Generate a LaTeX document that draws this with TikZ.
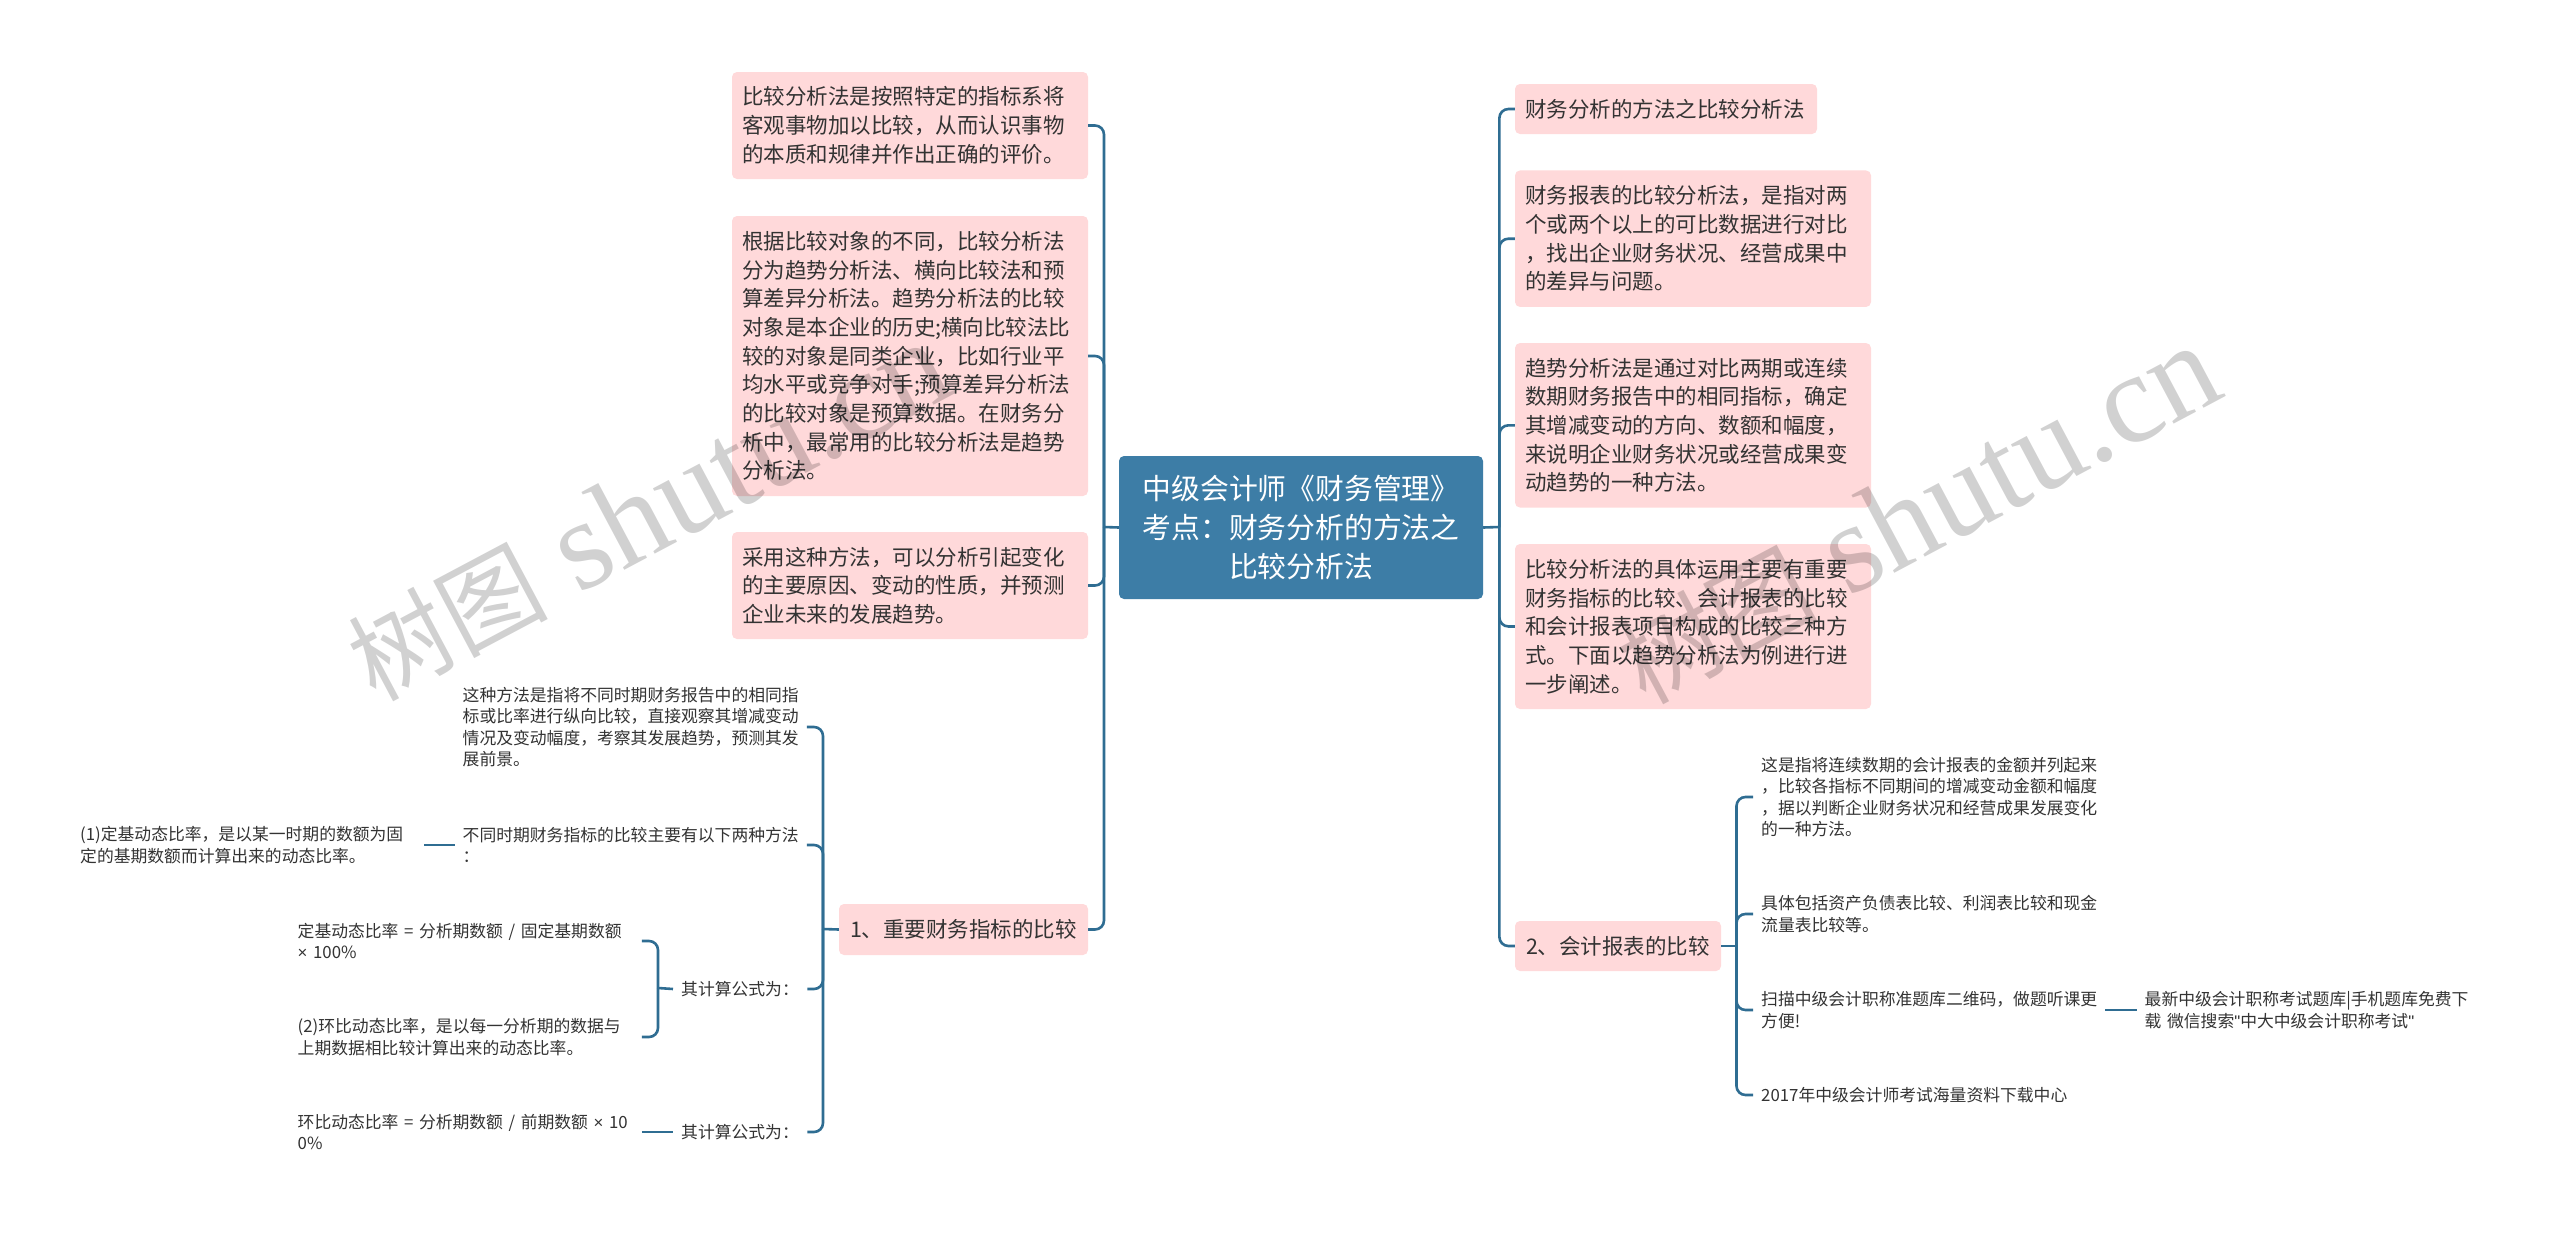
\documentclass[tikz,border=0pt]{standalone}
\usepackage{fontspec}
\setmainfont{Noto Sans CJK SC}
\newfontfamily\wmserif{Liberation Serif}
\newfontfamily\latinsans{Liberation Sans}
\definecolor{pinkfill}{HTML}{FFD9DA}
\definecolor{rootfill}{HTML}{3D7DA6}
\definecolor{linecol}{HTML}{2F6D92}
\definecolor{txt}{HTML}{333333}
\newcommand{\tm}{{\latinsans ×}}
\newcommand{\qt}{{\latinsans "}}
\tikzset{
  pinkbox/.style={fill=pinkfill,rounded corners=5pt,inner xsep=10pt,inner ysep=0pt,align=left,text=txt,font=\fontsize{21.5}{28.7}\selectfont},
  rootbox/.style={fill=rootfill,rounded corners=5pt,inner sep=0pt,align=center,text=white,font=\fontsize{28.8}{38.8}\selectfont},
  plain/.style={inner xsep=8pt,inner ysep=0pt,anchor=west,text width=336pt,align=left,text=txt,font=\fontsize{16.8}{21.5}\selectfont},
  conn/.style={draw=linecol,line width=2.6pt,rounded corners=9pt},
  wmark/.style={text=black,opacity=0.18,rotate=28,inner sep=0pt,font=\fontsize{100}{120}\selectfont}
}
\begin{document}
\begin{tikzpicture}[x=1pt,y=-1pt]
\useasboundingbox[fill=white] (0,0) rectangle (2560,1234);
\coordinate (ls) at (1104,527);
\coordinate (rs) at (1499.4,527);
\coordinate (ms) at (823,929);
\coordinate (ss) at (658,988);
\coordinate (rt) at (1736.5,946);
% central
\node[rootbox,minimum width=364pt,minimum height=143pt] (root) at (1301,527.5) {中级会计师《财务管理》\\考点：财务分析的方法之\\比较分析法};
% left pink
\node[pinkbox,text width=336pt,minimum height=107pt] (b1) at (910,125.5) {比较分析法是按照特定的指标系将\\客观事物加以比较，从而认识事物\\的本质和规律并作出正确的评价。};
\node[pinkbox,text width=336pt,minimum height=280pt] (b2) at (910,356) {根据比较对象的不同，比较分析法\\分为趋势分析法、横向比较法和预\\算差异分析法。趋势分析法的比较\\对象是本企业的历史;横向比较法比\\较的对象是同类企业，比如行业平\\均水平或竞争对手;预算差异分析法\\的比较对象是预算数据。在财务分\\析中，最常用的比较分析法是趋势\\分析法。};
\node[pinkbox,text width=336pt,minimum height=107pt] (b3) at (910,585.5) {采用这种方法，可以分析引起变化\\的主要原因、变动的性质，并预测\\企业未来的发展趋势。};
\node[pinkbox,inner xsep=0pt,minimum width=249pt,minimum height=51pt,align=center] (n1) at (963.5,929.5) {1、重要财务指标的比较};
% left plain
\node[plain] (a) at (454.5,727) {这种方法是指将不同时期财务报告中的相同指\\标或比率进行纵向比较，直接观察其增减变动\\情况及变动幅度，考察其发展趋势，预测其发\\展前景。};
\node[plain] (bb) at (454.5,845) {不同时期财务指标的比较主要有以下两种方法\\：};
\node[plain] (c) at (72,845) {(1)定基动态比率，是以某一时期的数额为固\\定的基期数额而计算出来的动态比率。};
\node[plain] (d) at (289.5,941) {定基动态比率 = 分析期数额 / 固定基期数额\\\tm{} 100\%};
\node[plain] (e) at (289.5,1037) {(2)环比动态比率，是以每一分析期的数据与\\上期数据相比较计算出来的动态比率。};
\node[plain] (f) at (289.5,1132) {\mbox{环比动态比率 = 分析期数额 / 前期数额 \tm{} 10}\\0\%};
\node[plain,text width=118pt] (p1) at (673,989) {其计算公式为：};
\node[plain,text width=118pt] (p2) at (673,1132) {其计算公式为：};
% right pink
\node[pinkbox,text width=282pt,minimum height=50pt] (r1) at (1666,109) {财务分析的方法之比较分析法};
\node[pinkbox,text width=336pt,minimum height=136.5pt] (r2) at (1693,238.7) {财务报表的比较分析法，是指对两\\个或两个以上的可比数据进行对比\\，找出企业财务状况、经营成果中\\的差异与问题。};
\node[pinkbox,text width=336pt,minimum height=164.5pt] (r3) at (1693,425.3) {趋势分析法是通过对比两期或连续\\数期财务报告中的相同指标，确定\\其增减变动的方向、数额和幅度，\\来说明企业财务状况或经营成果变\\动趋势的一种方法。};
\node[pinkbox,text width=336pt,minimum height=165pt] (r4) at (1693,626.5) {比较分析法的具体运用主要有重要\\财务指标的比较、会计报表的比较\\和会计报表项目构成的比较三种方\\式。下面以趋势分析法为例进行进\\一步阐述。};
\node[pinkbox,inner xsep=0pt,minimum width=206pt,minimum height=50pt,align=center] (n2) at (1618,946) {2、会计报表的比较};
% right plain
\node[plain] (g) at (1753,797) {这是指将连续数期的会计报表的金额并列起来\\，比较各指标不同期间的增减变动金额和幅度\\，据以判断企业财务状况和经营成果发展变化\\的一种方法。};
\node[plain] (h) at (1753,914) {具体包括资产负债表比较、利润表比较和现金\\流量表比较等。};
\node[plain] (i) at (1753,1010) {扫描中级会计职称准题库二维码，做题听课更\\方便!};
\node[plain] (j) at (1753,1095) {2017年中级会计师考试海量资料下载中心};
\node[plain] (k) at (2136.5,1010) {最新中级会计职称考试题库|手机题库免费下\\载 微信搜索\qt{}中大中级会计职称考试\qt};
% connectors
\draw[conn] (root.west) -- (ls);
\draw[conn] (b1.east) -| (ls);
\draw[conn] (b2.east) -| (ls);
\draw[conn] (b3.east) -| (ls);
\draw[conn] (n1.east) -| (ls);
\draw[conn] (n1.west) -- (ms);
\draw[conn] (a.east) -| (ms);
\draw[conn] (bb.east) -| (ms);
\draw[conn] (p1.east) -| (ms);
\draw[conn] (p2.east) -| (ms);
\draw[conn] (c.east) -- (bb.west);
\draw[conn] (f.east) -- (p2.west);
\draw[conn] (p1.west) -- (ss);
\draw[conn] (d.east) -| (ss);
\draw[conn] (e.east) -| (ss);
\draw[conn] (root.east) -- (rs);
\draw[conn] (r1.west) -| (rs);
\draw[conn] (r2.west) -| (rs);
\draw[conn] (r3.west) -| (rs);
\draw[conn] (r4.west) -| (rs);
\draw[conn] (n2.west) -| (rs);
\draw[conn] (n2.east) -- (rt);
\draw[conn] (g.west) -| (rt);
\draw[conn] (h.west) -| (rt);
\draw[conn] (i.west) -| (rt);
\draw[conn] (j.west) -| (rt);
\draw[conn] (i.east) -- (k.west);
% watermarks
\node[wmark] (w1) at (648,512) {树图\hspace{30pt}{\wmserif\fontsize{128}{140}\selectfont shutu.cn}};
\node[wmark] (w2) at (1918,515) {树图\hspace{30pt}{\wmserif\fontsize{128}{140}\selectfont shutu.cn}};
\end{tikzpicture}
\end{document}
